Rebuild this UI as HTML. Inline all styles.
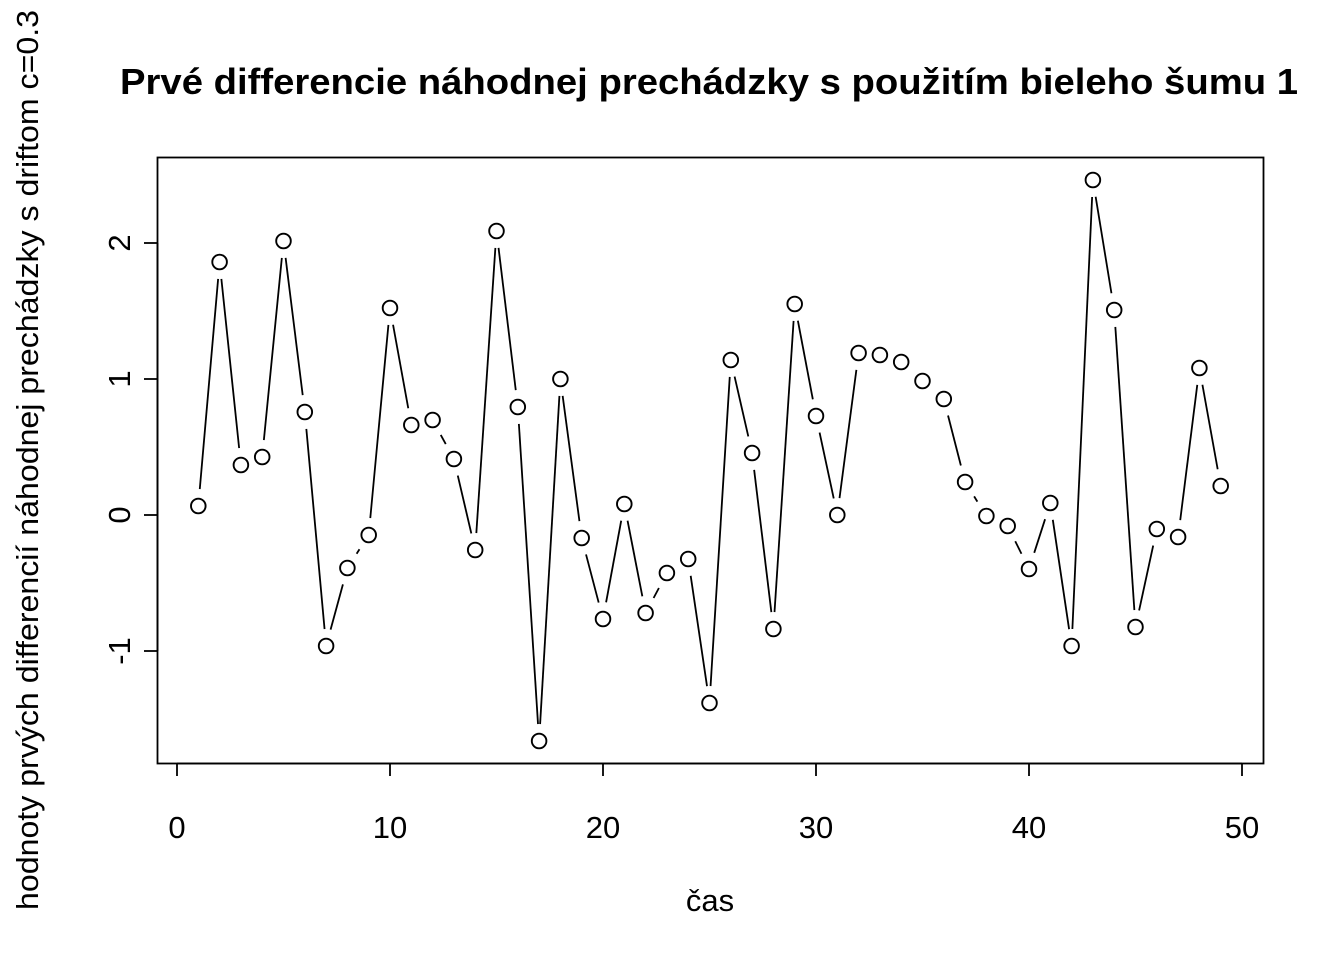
<!DOCTYPE html>
<html><head><meta charset="utf-8"><style>
html,body{margin:0;padding:0;background:#fff;}
svg{display:block;}
text{font-family:"Liberation Sans",Arial,sans-serif;fill:#000;}
</style></head><body>
<svg id="s" width="1344" height="960" xmlns="http://www.w3.org/2000/svg">
<rect x="0" y="0" width="1344" height="960" fill="#fff"/>
<text x="709" y="94" font-size="36" font-weight="bold" text-anchor="middle" textLength="1178" lengthAdjust="spacingAndGlyphs">Prvé differencie náhodnej prechádzky s použitím bieleho šumu 1</text>
<rect x="157.5" y="157.5" width="1106" height="606" fill="none" stroke="#000" stroke-width="1.8"/>
<g stroke="#000" stroke-width="1.8">
<line x1="177" y1="763.5" x2="1242" y2="763.5"/>
<line x1="177" y1="763" x2="177" y2="776"/>
<line x1="390" y1="763" x2="390" y2="776"/>
<line x1="603" y1="763" x2="603" y2="776"/>
<line x1="816" y1="763" x2="816" y2="776"/>
<line x1="1029" y1="763" x2="1029" y2="776"/>
<line x1="1242" y1="763" x2="1242" y2="776"/>
<line x1="157.5" y1="243" x2="157.5" y2="651"/>
<line x1="144" y1="243" x2="157" y2="243"/>
<line x1="144" y1="379" x2="157" y2="379"/>
<line x1="144" y1="515" x2="157" y2="515"/>
<line x1="144" y1="651" x2="157" y2="651"/>
</g>
<g font-size="31" text-anchor="middle">
<text x="177" y="838">0</text>
<text x="390" y="838">10</text>
<text x="603" y="838">20</text>
<text x="816" y="838">30</text>
<text x="1029" y="838">40</text>
<text x="1242" y="838">50</text>
<text transform="translate(130,243) rotate(-90)">2</text>
<text transform="translate(130,379) rotate(-90)">1</text>
<text transform="translate(130,515) rotate(-90)">0</text>
<text transform="translate(130,651) rotate(-90)">-1</text>
<text x="710" y="911">čas</text>
<text transform="translate(38,460) rotate(-90)" textLength="900" lengthAdjust="spacingAndGlyphs">hodnoty prvých differencií náhodnej prechádzky s driftom c=0.3</text>
</g>
<g id="d"></g>
</svg>
<script>
var ys=[506,262,465,457,241,412,646,568,535,308,425,420,459,550,231,407,741,379,538,619,504,613,573,559,703,360,453,629,304,416,515,353,355,362,381,399,482,516,526,569,503,646,180,310,627,529,537,368,486];
var g=document.getElementById('d'),h='';
var pts=ys.map(function(y,i){return [177+21.3*(i+1),y];});
var gap=17;
for(var i=0;i<pts.length-1;i++){
 var a=pts[i],b=pts[i+1],dx=b[0]-a[0],dy=b[1]-a[1],L=Math.sqrt(dx*dx+dy*dy);
 if(L>2*gap){var ux=dx/L,uy=dy/L;
  h+='<line x1="'+(a[0]+ux*gap)+'" y1="'+(a[1]+uy*gap)+'" x2="'+(b[0]-ux*gap)+'" y2="'+(b[1]-uy*gap)+'" stroke="#000" stroke-width="1.8"/>';}
}
pts.forEach(function(p){h+='<circle cx="'+p[0]+'" cy="'+p[1]+'" r="7.3" fill="#fff" stroke="#000" stroke-width="1.9"/>';});
g.innerHTML=h;
</script>
</body></html>
